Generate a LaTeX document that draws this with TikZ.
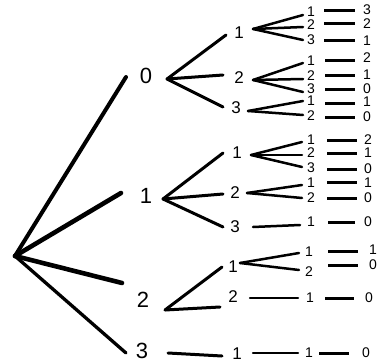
\documentclass[tikz,border=0pt]{standalone}
\usepackage{fontspec}
\setmainfont{Liberation Sans}
\begin{document}
\begin{tikzpicture}[x=1pt,y=-1pt,
  big/.style={font=\fontsize{22}{22}\selectfont, inner sep=0pt},
  mid/.style={font=\fontsize{17}{17}\selectfont, inner sep=0pt},
  small/.style={font=\fontsize{14}{14}\selectfont, inner sep=0pt},
  edgeA/.style={line width=4pt, line cap=round},
  edgeB/.style={line width=3pt, line cap=round},
  edgeC/.style={line width=2.5pt, line cap=round},
  edgeD/.style={line width=3pt}]
\useasboundingbox (0,0) rectangle (382,361);
% ---------- level 1 ----------
\coordinate (R) at (15,256);
\node[big] (L0) at (146,76) {0};  \coordinate (e0) at (126,77);
\node[big] (L1) at (146,196) {1}; \coordinate (e1) at (121,193);
\node[big] (L2) at (143,300) {2}; \coordinate (e2) at (122,283);
\node[big] (L3) at (142,351) {3}; \coordinate (e3) at (126,353);
\draw[edgeA] (R) -- (e0);
\draw[edgeA, line width=4.6pt] (R) -- (e1);
\draw[edgeA, line width=4.6pt] (R) -- (e2);
\draw[edgeA, line width=3.3pt] (R) -- (e3);
% ---------- subtree 0 ----------
\coordinate (v0) at (167,79);
\node[mid] (a1) at (239,33) {1};  \coordinate (a1e) at (226,35);
\node[mid] (a2) at (239,78) {2};  \coordinate (a2e) at (223,75);
\node[mid] (a3) at (236,108) {3}; \coordinate (a3e) at (223,107);
\draw[edgeB] (v0) -- (a1e);
\draw[edgeB] (v0) -- (a2e);
\draw[edgeB] (v0) -- (a3e);
% group a1
\coordinate (a1v) at (253,29);
\node[small] (a11) at (311,12) {1}; \coordinate (a11e) at (303,15);
\node[small] (a12) at (311,25) {2}; \coordinate (a12e) at (303,27);
\node[small] (a13) at (311,40) {3}; \coordinate (a13e) at (303,40);
\draw[edgeC] (a1v) -- (a11e);
\draw[edgeC] (a1v) -- (a12e);
\draw[edgeC] (a1v) -- (a13e);
\coordinate (a11s) at (324,11); \coordinate (a11t) at (355,11); \node[small] (a111) at (367,10) {3};
\coordinate (a12s) at (324,24); \coordinate (a12t) at (355,24); \node[small] (a121) at (367,24) {2};
\coordinate (a13s) at (324,41); \coordinate (a13t) at (355,41); \node[small] (a131) at (367,41) {1};
\draw[edgeD] (a11s) -- (a11t);
\draw[edgeD] (a12s) -- (a12t);
\draw[edgeD] (a13s) -- (a13t);
% group a2
\coordinate (a2v) at (253,80);
\node[small] (a21) at (311,61) {1}; \coordinate (a21e) at (303,63);
\node[small] (a22) at (311,76) {2}; \coordinate (a22e) at (303,79);
\node[small] (a23) at (311,89) {3}; \coordinate (a23e) at (303,92);
\draw[edgeC] (a2v) -- (a21e);
\draw[edgeC] (a2v) -- (a22e);
\draw[edgeC] (a2v) -- (a23e);
\coordinate (a21s) at (325,60); \coordinate (a21t) at (355,60); \node[small] (a211) at (367,58) {2};
\coordinate (a22s) at (325,75); \coordinate (a22t) at (355,75); \node[small] (a221) at (367,75) {1};
\coordinate (a23s) at (325,89); \coordinate (a23t) at (355,89); \node[small] (a231) at (367,89) {0};
\draw[edgeD] (a21s) -- (a21t);
\draw[edgeD] (a22s) -- (a22t);
\draw[edgeD] (a23s) -- (a23t);
% group a3
\coordinate (a3v) at (248,111);
\node[small] (a31) at (311,101) {1}; \coordinate (a31e) at (303,101);
\node[small] (a32) at (311,116) {2}; \coordinate (a32e) at (303,115);
\draw[edgeC] (a3v) -- (a31e);
\draw[edgeC] (a3v) -- (a32e);
\coordinate (a31s) at (325,103); \coordinate (a31t) at (355,103); \node[small] (a311) at (367,102) {1};
\coordinate (a32s) at (325,117); \coordinate (a32t) at (355,117); \node[small] (a321) at (367,117) {0};
\draw[edgeD] (a31s) -- (a31t);
\draw[edgeD] (a32s) -- (a32t);
% ---------- subtree 1 ----------
\coordinate (v1) at (163,199);
\node[mid] (b1) at (237,153) {1}; \coordinate (b1e) at (223,153);
\node[mid] (b2) at (235,193) {2}; \coordinate (b2e) at (223,194);
\node[mid] (b3) at (235,227) {3}; \coordinate (b3e) at (223,227);
\draw[edgeB] (v1) -- (b1e);
\draw[edgeB] (v1) -- (b2e);
\draw[edgeB] (v1) -- (b3e);
% group b1
\coordinate (b1v) at (251,155);
\node[small] (b11) at (311,140) {1}; \coordinate (b11e) at (302,142);
\node[small] (b12) at (311,153) {2}; \coordinate (b12e) at (302,155);
\node[small] (b13) at (311,168) {3}; \coordinate (b13e) at (302,167);
\draw[edgeC] (b1v) -- (b11e);
\draw[edgeC] (b1v) -- (b12e);
\draw[edgeC] (b1v) -- (b13e);
\coordinate (b11s) at (327,140); \coordinate (b11t) at (357,140); \node[small] (b111) at (368,140) {2};
\coordinate (b12s) at (327,153); \coordinate (b12t) at (357,153); \node[small] (b121) at (368,153) {1};
\coordinate (b13s) at (327,169); \coordinate (b13t) at (357,169); \node[small] (b131) at (368,169) {0};
\draw[edgeD] (b11s) -- (b11t);
\draw[edgeD] (b12s) -- (b12t);
\draw[edgeD] (b13s) -- (b13t);
% group b2
\coordinate (b2v) at (247,193);
\node[small] (b21) at (311,183) {1}; \coordinate (b21e) at (302,185);
\node[small] (b22) at (311,198) {2}; \coordinate (b22e) at (302,198);
\draw[edgeC] (b2v) -- (b21e);
\draw[edgeC] (b2v) -- (b22e);
\coordinate (b21s) at (327,182); \coordinate (b21t) at (357,182); \node[small] (b211) at (368,183) {1};
\coordinate (b22s) at (327,198); \coordinate (b22t) at (357,198); \node[small] (b221) at (368,198) {0};
\draw[edgeD] (b21s) -- (b21t);
\draw[edgeD] (b22s) -- (b22t);
% group b3
\coordinate (b3v) at (253,227);
\node[small] (b31) at (311,222) {1}; \coordinate (b31e) at (300,225);
\draw[edgeC] (b3v) -- (b31e);
\coordinate (b31s) at (328,222); \coordinate (b31t) at (355,222); \node[small] (b311) at (368,222) {0};
\draw[edgeD] (b31s) -- (b31t);
% ---------- subtree 2 ----------
\coordinate (v2) at (165,310);
\node[mid] (c1) at (233,267) {1}; \coordinate (c1e) at (222,267);
\node[mid] (c2) at (233,297) {2}; \coordinate (c2e) at (220,307);
\draw[edgeB] (v2) -- (c1e);
\draw[edgeB] (v2) -- (c2e);
% group c1
\coordinate (c1v) at (240,263);
\node[small] (c11) at (309,252) {1}; \coordinate (c11e) at (299,253);
\node[small] (c12) at (309,272) {2}; \coordinate (c12e) at (299,270);
\draw[edgeC] (c1v) -- (c11e);
\draw[edgeC] (c1v) -- (c12e);
\coordinate (c11s) at (328,251); \coordinate (c11t) at (358,251); \node[small] (c111) at (373,250) {1};
\coordinate (c12s) at (328,265); \coordinate (c12t) at (358,265); \node[small] (c121) at (373,265) {0};
\draw[edgeD] (c11s) -- (c11t);
\draw[edgeD] (c12s) -- (c12t);
% group c2
\coordinate (c2v) at (250,298);
\node[small] (c21) at (310,298) {1}; \coordinate (c21e) at (298,298);
\draw[edgeC] (c2v) -- (c21e);
\coordinate (c21s) at (325,298); \coordinate (c21t) at (354,298); \node[small] (c211) at (369,298) {0};
\draw[edgeD] (c21s) -- (c21t);
% ---------- subtree 3 ----------
\coordinate (v3) at (168,353);
\node[mid] (d1) at (237,354) {1}; \coordinate (d1e) at (222,356);
\draw[edgeB] (v3) -- (d1e);
\coordinate (d1v) at (253,353);
\node[small] (d11) at (309,353) {1}; \coordinate (d11e) at (298,353);
\draw[edgeC] (d1v) -- (d11e);
\coordinate (d11s) at (319,353); \coordinate (d11t) at (349,353); \node[small] (d111) at (366,353) {0};
\draw[edgeD] (d11s) -- (d11t);
\end{tikzpicture}
\end{document}
